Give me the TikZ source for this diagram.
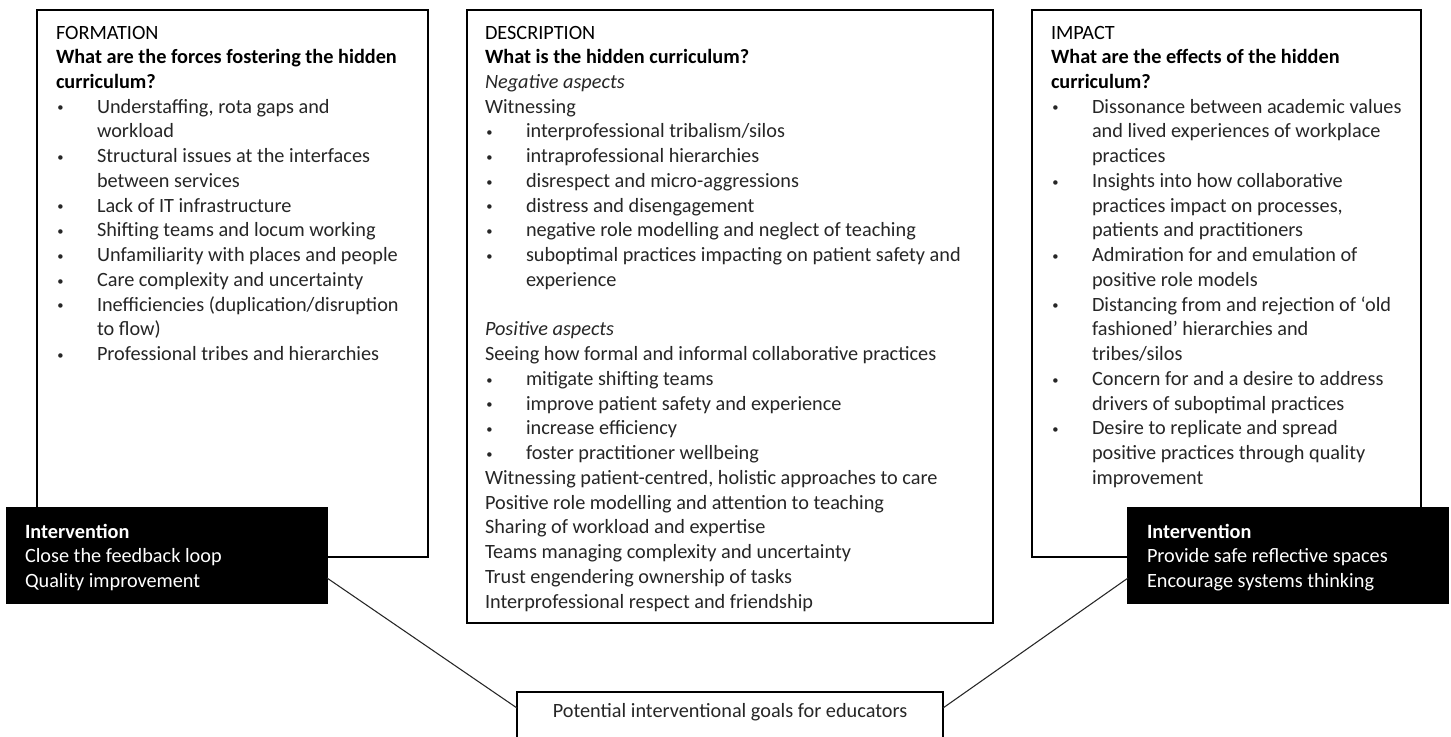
\documentclass[tikz,border=0pt]{standalone}
\usepackage{fontspec}
\setmainfont{Carlito}
\usetikzlibrary{calc}
\newcommand\bl{\makebox[30.75pt][l]{\hspace*{1pt}\raisebox{0.07em}{\scalebox{0.62}{•}}}}
\newcommand\ii{\hspace*{30.75pt}}
\newcommand\txtblock[1]{\parbox[t]{560pt}{\fontsize{15.2pt}{18.56pt}\selectfont\raggedright #1}}
\tikzset{
  panel/.style={draw=black, line width=1.1pt, fill=white, anchor=north west, inner sep=0pt, outer sep=0pt},
  ivbox/.style={draw=black, fill=black, line width=0.8pt, anchor=north west, inner sep=0pt, outer sep=0pt},
  bodytext/.style={anchor=base west, inner sep=0pt, outer sep=0pt, text=black!85},
  ivtext/.style={anchor=base west, inner sep=0pt, outer sep=0pt, text=white},
  conn/.style={draw=black!85, line width=0.8pt}
}
\begin{document}
\begin{tikzpicture}[x=0.75pt,y=-0.75pt]
\useasboundingbox (0,0) rectangle (1451,736);
\clip (0,0) rectangle (1451,736);
\fill[white] (0,0) rectangle (1451,736);

% panels
\node[panel, minimum width=391*0.75pt, minimum height=547*0.75pt] (form) at (37,10) {};
\node[panel, minimum width=526*0.75pt, minimum height=613*0.75pt] (desc) at (467,10) {};
\node[panel, minimum width=389*0.75pt, minimum height=547*0.75pt] (imp) at (1032,10) {};

\node[bodytext] (formtext) at (56,39) {\txtblock{%
\textcolor{black}{FORMATION}\\
\textcolor{black}{\textbf{What are the forces fostering the hidden}}\\
\textcolor{black}{\textbf{curriculum?}}\\
\bl Understaffing, rota gaps and\\
\ii workload\\
\bl Structural issues at the interfaces\\
\ii between services\\
\bl Lack of IT infrastructure\\
\bl Shifting teams and locum working\\
\bl Unfamiliarity with places and people\\
\bl Care complexity and uncertainty\\
\bl Inefficiencies (duplication/disruption\\
\ii to flow)\\
\bl Professional tribes and hierarchies}};

\node[bodytext] (desctext) at (485,39) {\txtblock{%
\textcolor{black}{DESCRIPTION}\\
\textcolor{black}{\textbf{What is the hidden curriculum?}}\\
\textit{Negative aspects}\\
Witnessing\\
\bl interprofessional tribalism/silos\\
\bl intraprofessional hierarchies\\
\bl disrespect and micro-aggressions\\
\bl distress and disengagement\\
\bl negative role modelling and neglect of teaching\\
\bl suboptimal practices impacting on patient safety and\\
\ii experience\\
\mbox{}\\
\textit{Positive aspects}\\
Seeing how formal and informal collaborative practices\\
\bl mitigate shifting teams\\
\bl improve patient safety and experience\\
\bl increase efficiency\\
\bl foster practitioner wellbeing\\
Witnessing patient-centred, holistic approaches to care\\
Positive role modelling and attention to teaching\\
Sharing of workload and expertise\\
Teams managing complexity and uncertainty\\
Trust engendering ownership of tasks\\
Interprofessional respect and friendship}};

\node[bodytext] (imptext) at (1051,39) {\txtblock{%
\textcolor{black}{IMPACT}\\
\textcolor{black}{\textbf{What are the effects of the hidden}}\\
\textcolor{black}{\textbf{curriculum?}}\\
\bl Dissonance between academic values\\
\ii and lived experiences of workplace\\
\ii practices\\
\bl Insights into how collaborative\\
\ii practices impact on processes,\\
\ii patients and practitioners\\
\bl Admiration for and emulation of\\
\ii positive role models\\
\bl Distancing from and rejection of ‘old\\
\ii fashioned’ hierarchies and\\
\ii tribes/silos\\
\bl Concern for and a desire to address\\
\ii drivers of suboptimal practices\\
\bl Desire to replicate and spread\\
\ii positive practices through quality\\
\ii improvement}};

% intervention boxes
\node[ivbox, minimum width=320*0.75pt, minimum height=95*0.75pt] (ivL) at (7,508) {};
\node[ivbox, minimum width=320*0.75pt, minimum height=95*0.75pt] (ivR) at (1128,508) {};
\node[ivtext] (ivLtext) at (25,538) {\txtblock{%
\textbf{Intervention}\\
Close the feedback loop\\
Quality improvement}};
\node[ivtext] (ivRtext) at (1147,538) {\txtblock{%
\textbf{Intervention}\\
Provide safe reflective spaces\\
Encourage systems thinking}};

% goal box
\node[panel, minimum width=426*0.75pt, minimum height=55*0.75pt] (goal) at (517,692) {};
\node[anchor=base, inner sep=0pt, text=black!85, font=\fontsize{15.2pt}{18.56pt}\selectfont] (goaltext) at (730,717) {Potential interventional goals for educators};

% connectors
\draw[conn] ($(ivL.south east)+(0,-25)$) -- ($(goal.north west)+(0,16)$);
\draw[conn] ($(goal.north east)+(0,16)$) -- ($(ivR.south west)+(0,-25)$);
\end{tikzpicture}
\end{document}
